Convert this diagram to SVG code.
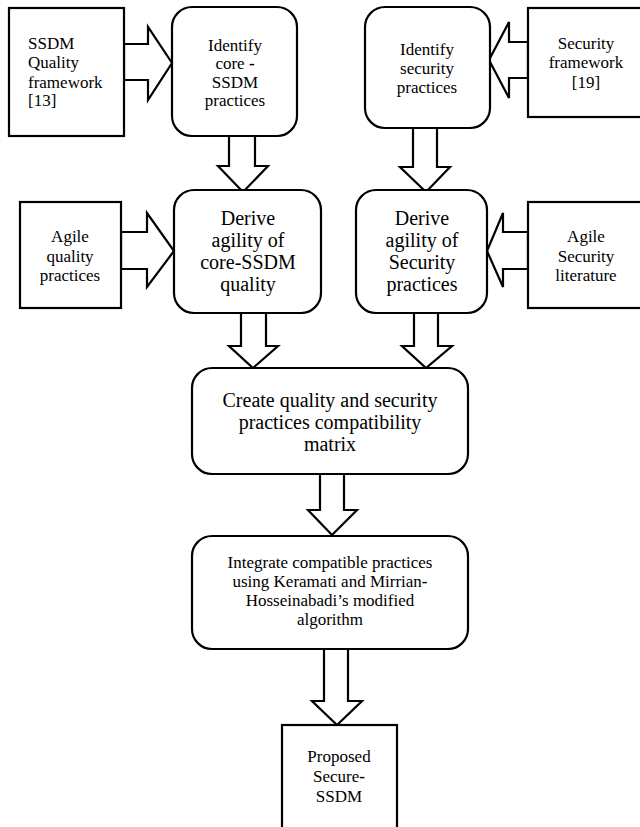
<svg xmlns="http://www.w3.org/2000/svg" width="640" height="827" viewBox="0 0 640 827" font-family="'Liberation Serif', 'Times New Roman', serif">
<style>
.box{fill:#fff;stroke:#000;stroke-width:2.2}
.arr{fill:#fff;stroke:#000;stroke-width:2.2;stroke-linejoin:miter}
.t{font-family:'Liberation Serif','Times New Roman',serif;fill:#000;text-anchor:middle}
.s17{font-size:17px}
.s20{font-size:20px}
</style>
<rect width="640" height="827" fill="#fff"/>
<g id="connectors">
<polygon class="arr" points="124,44 148,44 148,27 172,63 148,100 148,80 124,80"/>
<polygon class="arr" points="528,42 509,42 509,22 489,60 509,98 509,78 528,78"/>
<polygon class="arr" points="229,136 255,136 255,166 268,166 243,192 218,166 229,166"/>
<polygon class="arr" points="413,128 437,128 437,167 450,167 426,192 400,167 413,167"/>
<polygon class="arr" points="121,232 147,232 147,213 174,251 147,287 147,269 121,269"/>
<polygon class="arr" points="528,232 503,232 503,213 487,251 503,287 503,269 528,269"/>
<polygon class="arr" points="241,313 266,313 266,346 278,346 253,368 229,346 241,346"/>
<polygon class="arr" points="414,313 438,313 438,346 452,346 426,368 402,346 414,346"/>
<polygon class="arr" points="320,474 344,474 344,510 357,510 332,535 308,510 320,510"/>
<polygon class="arr" points="324,649 348,649 348,701 362,701 337,725 312,701 324,701"/>
</g>
<g id="ssdm-quality-framework">
<rect class="box" x="9" y="8" width="115" height="128"/>
<text class="t s17" style="text-anchor:start" x="28" y="49">SSDM</text>
<text class="t s17" style="text-anchor:start" x="28" y="68">Quality</text>
<text class="t s17" style="text-anchor:start" x="28" y="88">framework</text>
<text class="t s17" style="text-anchor:start" x="28" y="106">[13]</text>
</g>
<g id="identify-core">
<rect class="box" x="172" y="7" width="125" height="129" rx="20"/>
<text class="t s17" x="235" y="51">Identify</text>
<text class="t s17" x="235" y="69">core <tspan font-weight="bold">-</tspan></text>
<text class="t s17" x="235" y="87.5">SSDM</text>
<text class="t s17" x="235" y="106">practices</text>
</g>
<g id="identify-security">
<rect class="box" x="365" y="7" width="125" height="121" rx="20"/>
<text class="t s17" x="427" y="55">Identify</text>
<text class="t s17" x="427" y="74">security</text>
<text class="t s17" x="427" y="93">practices</text>
</g>
<g id="security-framework">
<rect class="box" x="528" y="8" width="120" height="109"/>
<text class="t s17" x="586" y="49">Security</text>
<text class="t s17" x="586" y="68">framework</text>
<text class="t s17" x="586" y="88">[19]</text>
</g>
<g id="agile-quality">
<rect class="box" x="20" y="202" width="101" height="106"/>
<text class="t s17" x="70" y="242">Agile</text>
<text class="t s17" x="70" y="262">quality</text>
<text class="t s17" x="70" y="281">practices</text>
</g>
<g id="derive-core">
<rect class="box" x="174" y="190" width="147" height="123" rx="20"/>
<text class="t s20" x="248" y="225">Derive</text>
<text class="t s20" x="248" y="247">agility of</text>
<text class="t s20" x="248" y="269">core-SSDM</text>
<text class="t s20" x="248" y="291">quality</text>
</g>
<g id="derive-security">
<rect class="box" x="356" y="190" width="131" height="123" rx="20"/>
<text class="t s20" x="422" y="225">Derive</text>
<text class="t s20" x="422" y="247">agility of</text>
<text class="t s20" x="422" y="269">Security</text>
<text class="t s20" x="422" y="291">practices</text>
</g>
<g id="agile-security">
<rect class="box" x="528" y="202" width="120" height="106"/>
<text class="t s17" x="586" y="242">Agile</text>
<text class="t s17" x="586" y="262">Security</text>
<text class="t s17" x="586" y="281">literature</text>
</g>
<g id="create-matrix">
<rect class="box" x="192" y="368" width="276" height="106" rx="20"/>
<text class="t s20" x="330" y="407">Create quality and security</text>
<text class="t s20" x="330" y="429">practices compatibility</text>
<text class="t s20" x="330" y="451">matrix</text>
</g>
<g id="integrate">
<rect class="box" x="192" y="536" width="276" height="113" rx="20"/>
<text class="t s17" x="330" y="568">Integrate compatible practices</text>
<text class="t s17" x="330" y="587">using Keramati and Mirrian<tspan font-weight="bold">-</tspan></text>
<text class="t s17" x="330" y="606">Hosseinabadi’s modified</text>
<text class="t s17" x="330" y="625">algorithm</text>
</g>
<g id="proposed">
<rect class="box" x="282" y="725" width="115" height="120"/>
<text class="t s17" x="339" y="762">Proposed</text>
<text class="t s17" x="339" y="782">Secure<tspan font-weight="bold">-</tspan></text>
<text class="t s17" x="339" y="802">SSDM</text>
</g>
</svg>
